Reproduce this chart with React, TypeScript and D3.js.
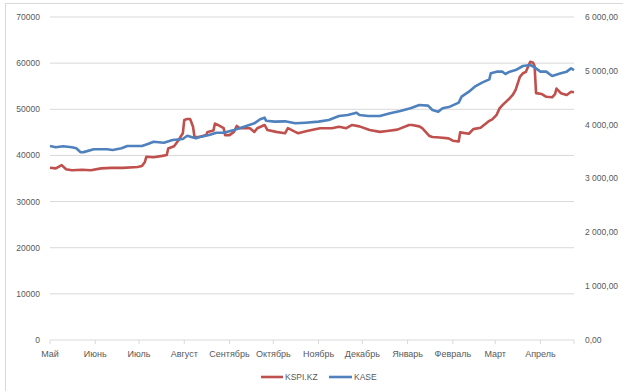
import React from 'react';
import * as d3 from 'd3';

// KSPI.KZ, left axis (tenge)
const kspiDates = [
  '2023-05-01', '2023-05-05', '2023-05-09', '2023-05-12', '2023-05-16', '2023-05-23', '2023-05-29',
  '2023-06-05', '2023-06-12', '2023-06-20', '2023-06-30',
  '2023-07-03', '2023-07-05', '2023-07-06', '2023-07-11', '2023-07-17', '2023-07-20', '2023-07-21', '2023-07-25', '2023-07-28', '2023-07-31',
  '2023-08-01', '2023-08-03', '2023-08-05', '2023-08-07', '2023-08-08', '2023-08-11', '2023-08-16', '2023-08-17', '2023-08-21', '2023-08-22', '2023-08-24', '2023-08-28', '2023-08-29',
  '2023-09-01', '2023-09-04', '2023-09-06', '2023-09-08', '2023-09-15', '2023-09-18', '2023-09-20', '2023-09-25', '2023-09-27',
  '2023-10-03', '2023-10-09', '2023-10-11', '2023-10-16', '2023-10-18', '2023-10-24',
  '2023-11-02', '2023-11-10', '2023-11-15', '2023-11-20', '2023-11-24', '2023-11-29',
  '2023-12-06', '2023-12-13', '2023-12-18', '2023-12-25',
  '2024-01-02', '2024-01-04', '2024-01-09', '2024-01-11', '2024-01-16', '2024-01-18', '2024-01-23', '2024-01-29',
  '2024-02-01', '2024-02-05', '2024-02-06', '2024-02-12', '2024-02-15', '2024-02-20', '2024-02-26', '2024-02-28',
  '2024-03-02', '2024-03-04', '2024-03-06', '2024-03-11', '2024-03-13', '2024-03-15', '2024-03-18', '2024-03-20', '2024-03-22', '2024-03-25', '2024-03-27', '2024-03-28', '2024-03-29',
  '2024-04-02', '2024-04-05', '2024-04-09', '2024-04-11', '2024-04-12', '2024-04-15', '2024-04-19', '2024-04-22', '2024-04-24',
];
const kspiValues = [
  37340, 37200, 37900, 37000, 36800, 36900, 36800,
  37200, 37300, 37300, 37500,
  37700, 38600, 39700, 39600, 39900, 40100, 41500, 42000, 43300, 44800,
  47700, 47900, 47900, 46200, 44000, 44000, 44400, 45100, 45400, 46900, 46600, 45900, 44400,
  44400, 45100, 46400, 45900, 45900, 45100, 45900, 46600, 45500,
  45100, 44800, 45900, 45100, 44800, 45300,
  45900, 45900, 46200, 45900, 46600, 46300,
  45500, 45100, 45300, 45600,
  46600, 46600, 46300, 45900, 44200, 44000, 43900, 43700,
  43200, 43000, 45000, 44700, 45700, 46000, 47500, 47800,
  48800, 50200, 50900, 52400, 53100, 54200, 57100, 57800, 58100, 60300, 60100, 59400, 53500,
  53300, 52700, 52600, 53300, 54500, 53500, 53100, 53800, 53700,
];

// KASE index, right axis
const kaseDates = [
  '2023-05-01', '2023-05-05', '2023-05-10', '2023-05-16', '2023-05-19', '2023-05-22', '2023-05-24', '2023-05-31',
  '2023-06-09', '2023-06-13', '2023-06-19', '2023-06-23',
  '2023-07-03', '2023-07-07', '2023-07-11', '2023-07-18', '2023-07-24', '2023-07-31',
  '2023-08-03', '2023-08-07', '2023-08-09', '2023-08-11', '2023-08-18', '2023-08-23', '2023-08-28',
  '2023-09-04', '2023-09-11', '2023-09-18', '2023-09-22', '2023-09-25', '2023-09-26',
  '2023-10-02', '2023-10-09', '2023-10-16', '2023-10-23',
  '2023-11-01', '2023-11-08', '2023-11-15', '2023-11-21', '2023-11-27', '2023-11-29',
  '2023-12-05', '2023-12-13', '2023-12-20', '2023-12-27',
  '2024-01-03', '2024-01-09', '2024-01-15', '2024-01-18', '2024-01-22', '2024-01-25', '2024-01-30',
  '2024-02-05', '2024-02-07', '2024-02-12', '2024-02-16', '2024-02-21', '2024-02-26', '2024-02-27',
  '2024-03-02', '2024-03-06', '2024-03-08', '2024-03-11', '2024-03-15', '2024-03-20', '2024-03-25', '2024-03-28',
  '2024-04-01', '2024-04-05', '2024-04-09', '2024-04-15', '2024-04-19', '2024-04-22', '2024-04-24',
];
const kaseValues = [
  3604, 3580, 3600, 3580, 3561, 3487, 3490, 3542,
  3542, 3530, 3561, 3604,
  3604, 3641, 3684, 3665, 3715, 3734,
  3795, 3760, 3746, 3765, 3808, 3851, 3851,
  3901, 3963, 4025, 4100, 4130, 4074,
  4056, 4062, 4025, 4037,
  4056, 4087, 4161, 4180, 4223, 4180,
  4161, 4161, 4211, 4254,
  4304, 4365, 4353, 4273, 4242, 4304, 4334,
  4409, 4520, 4613, 4706, 4780, 4842, 4954,
  4985, 4985, 4941, 4985, 5015, 5090, 5108, 5065,
  4985, 4985, 4904, 4954, 4985, 5046, 5015,
];

const monthLabels = ['Май', 'Июнь', 'Июль', 'Август', 'Сентябрь', 'Октябрь', 'Ноябрь', 'Декабрь', 'Январь', 'Февраль', 'Март', 'Апрель'];
const leftTicks = [0, 10000, 20000, 30000, 40000, 50000, 60000, 70000];
const rightTicks = [0, 1000, 2000, 3000, 4000, 5000, 6000];
const seriesNames = ['KSPI.KZ', 'KASE'];

const W = 623;
const H = 391;
const plot = { left: 50, right: 574, top: 17, bottom: 340 };
const red = '#C0504D';
const blue = '#4F81BD';
const textColor = '#595959';
const font = '"Liberation Sans", Arial, sans-serif';

const parse = d3.utcParse('%Y-%m-%d');
const ruLocale = d3.formatLocale({ decimal: ',', thousands: '\u00a0', grouping: [3], currency: ['', ''] });
const fmtRight = ruLocale.format(',.2f');

export default function App() {
  const x = d3
    .scaleUtc()
    .domain([parse('2023-05-01')!, parse('2024-04-24')!])
    .range([plot.left, plot.right]);
  const yL = d3.scaleLinear().domain([0, 70000]).range([plot.bottom, plot.top]);
  const yR = d3.scaleLinear().domain([0, 6000]).range([plot.bottom, plot.top]);

  const kspi = kspiDates.map((d, i) => ({ date: parse(d)!, value: kspiValues[i] }));
  const kase = kaseDates.map((d, i) => ({ date: parse(d)!, value: kaseValues[i] }));

  const lineL = d3.line<{ date: Date; value: number }>().x(d => x(d.date)).y(d => yL(d.value));
  const lineR = d3.line<{ date: Date; value: number }>().x(d => x(d.date)).y(d => yR(d.value));

  const months = d3.utcMonth.range(parse('2023-05-01')!, parse('2024-04-24')!);

  return (
    <svg
      width={W}
      height={H}
      style={{ position: 'absolute', left: 0, top: 0, background: '#fff' }}
      fontFamily={font}
    >
      <rect x={5.5} y={3.5} width={660} height={420} fill="#fff" stroke="#d9d9d9" />

      {leftTicks.map(t => (
        <g key={'l' + t}>
          {t > 0 && (
            <line x1={plot.left} x2={plot.right} y1={yL(t)} y2={yL(t)} stroke="#d9d9d9" strokeWidth={1} />
          )}
          <text x={40} y={yL(t)} dy="0.35em" textAnchor="end" fontSize={8.5} fill={textColor}>
            {t}
          </text>
        </g>
      ))}

      {rightTicks.map(t => (
        <text key={'r' + t} x={585} y={yR(t)} dy="0.35em" fontSize={8.5} fill={textColor}>
          {fmtRight(t)}
        </text>
      ))}

      <line x1={plot.left} x2={plot.right} y1={plot.bottom} y2={plot.bottom} stroke="#d9d9d9" />
      {months.map((m, i) => (
        <g key={'m' + i}>
          <line x1={x(m)} x2={x(m)} y1={plot.bottom} y2={plot.bottom + 4} stroke="#d9d9d9" />
          <text x={x(m)} y={plot.bottom + 17} textAnchor="middle" fontSize={9} fill={textColor}>
            {monthLabels[i]}
          </text>
        </g>
      ))}
      <line x1={plot.right} x2={plot.right} y1={plot.bottom} y2={plot.bottom + 4} stroke="#d9d9d9" />

      <path d={lineL(kspi) ?? ''} fill="none" stroke={red} strokeWidth={2.6} strokeLinejoin="round" />
      <path d={lineR(kase) ?? ''} fill="none" stroke={blue} strokeWidth={2.6} strokeLinejoin="round" />

      <g fontSize={8.5} fill={textColor}>
        <line x1={261} x2={283} y1={377} y2={377} stroke={red} strokeWidth={2.6} />
        <text x={285} y={377} dy="0.35em">{seriesNames[0]}</text>
        <line x1={329} x2={352} y1={377} y2={377} stroke={blue} strokeWidth={2.6} />
        <text x={354} y={377} dy="0.35em">{seriesNames[1]}</text>
      </g>
    </svg>
  );
}
